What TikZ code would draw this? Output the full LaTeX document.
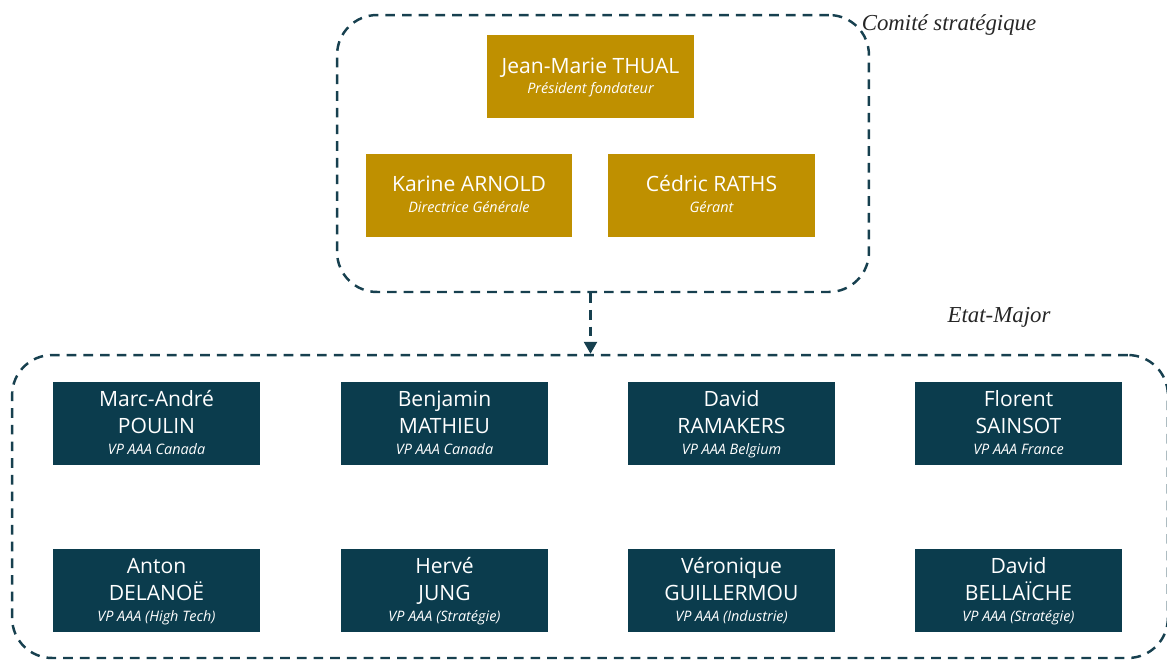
\documentclass[tikz,border=0pt]{standalone}
\usepackage{fontspec}
\setmainfont{Open Sans}
\newfontfamily\tagserif{Liberation Serif}
\usetikzlibrary{arrows.meta,positioning}
\definecolor{gold}{HTML}{BF9000}
\definecolor{petrol}{HTML}{0B3C4D}
\definecolor{frame}{HTML}{17404F}

\begin{document}
\begin{tikzpicture}[x=0.02cm, y=-0.02cm,
  board/.style={rectangle, fill=#1, text=white, minimum width=4.14cm, minimum height=1.66cm, align=center, inner sep=0pt,
    font=\fontsize{12}{15.5}\selectfont},
  group/.style={rectangle, draw=frame, line width=1.4pt, dash pattern=on 5.5pt off 4pt, rounded corners=0.8cm, inner sep=0pt},
  tag/.style={font=\tagserif\itshape\fontsize{13}{15}\selectfont, text=black!85},
  arr/.style={-{Triangle[length=2.4mm, width=2.6mm]}, draw=frame, line width=1.4pt, dash pattern=on 5.5pt off 4pt}
]
  \useasboundingbox (0,0) rectangle (1167,664);

  % comite strategique
  \node[group, minimum width=10.64cm, minimum height=5.54cm] (comite) at (603,153.5) {};
  \node[tag] (comitetag) at (949,25) {Comité stratégique};
  \node[board=gold] (president) at (590.5,76.5) {\strut Jean-Marie THUAL\\[-4pt]{\fontsize{8.2}{10}\selectfont\itshape Président fondateur\strut}};
  \node[board=gold] (dg) at (469,195) {\strut Karine ARNOLD\\[-4pt]{\fontsize{8.2}{10}\selectfont\itshape Directrice Générale\strut}};
  \node[board=gold] (gerant) at (711.5,195) {\strut Cédric RATHS\\[-4pt]{\fontsize{8.2}{10}\selectfont\itshape Gérant\strut}};

  % etat-major
  \node[group, minimum width=23.12cm, minimum height=6.06cm] (etat) at (590,506.5) {};
  \node[tag] (etattag) at (999,317) {Etat-Major};

  \node[board=petrol] (poulin) at (156.5,423.5) {\strut Marc-André\\POULIN\\[-4pt]{\fontsize{8.2}{10}\selectfont\itshape VP AAA Canada\strut}};
  \node[board=petrol] (mathieu) at (444.5,423.5) {\strut Benjamin\\MATHIEU\\[-4pt]{\fontsize{8.2}{10}\selectfont\itshape VP AAA Canada\strut}};
  \node[board=petrol] (ramakers) at (731.5,423.5) {\strut David\\RAMAKERS\\[-4pt]{\fontsize{8.2}{10}\selectfont\itshape VP AAA Belgium\strut}};
  \node[board=petrol] (sainsot) at (1018.5,423.5) {\strut Florent\\SAINSOT\\[-4pt]{\fontsize{8.2}{10}\selectfont\itshape VP AAA France\strut}};

  \node[board=petrol] (delanoe) at (156.5,590.5) {\strut Anton\\DELANOË\\[-4pt]{\fontsize{8.2}{10}\selectfont\itshape VP AAA (High Tech)\strut}};
  \node[board=petrol] (jung) at (444.5,590.5) {\strut Hervé\\JUNG\\[-4pt]{\fontsize{8.2}{10}\selectfont\itshape VP AAA (Stratégie)\strut}};
  \node[board=petrol] (guillermou) at (731.5,590.5) {\strut Véronique\\GUILLERMOU\\[-4pt]{\fontsize{8.2}{10}\selectfont\itshape VP AAA (Industrie)\strut}};
  \node[board=petrol] (bellaiche) at (1018.5,590.5) {\strut David\\BELLAÏCHE\\[-4pt]{\fontsize{8.2}{10}\selectfont\itshape VP AAA (Stratégie)\strut}};

  \draw[arr] (comite.south -| president) -- (etat.north -| president);
\end{tikzpicture}
\end{document}
